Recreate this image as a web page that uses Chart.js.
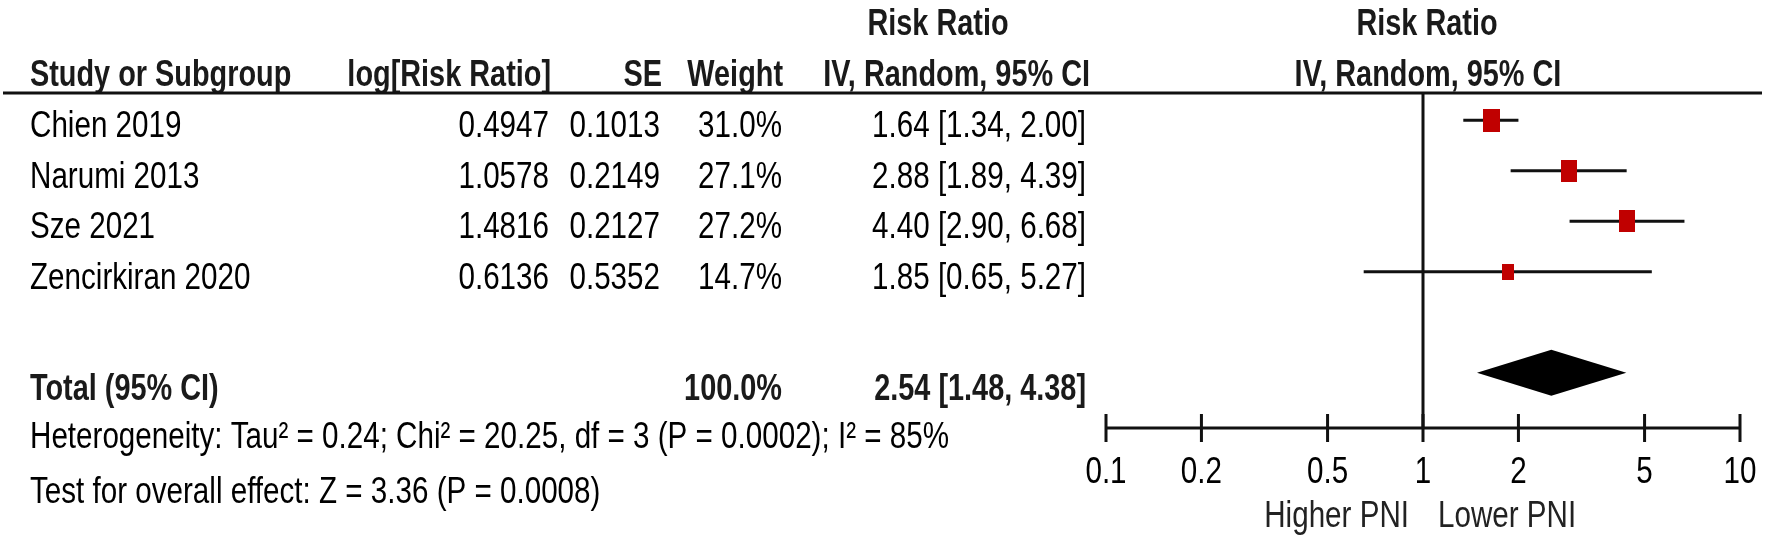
<!DOCTYPE html>
<html>
<head>
<meta charset="utf-8">
<title>Forest plot - Risk Ratio</title>
<script src="https://cdn.jsdelivr.net/npm/chart.js@4.4.1/dist/chart.umd.min.js"></script>
<style>
  html, body { margin: 0; padding: 0; background: #fff; }
  canvas { display: block; }
</style>
</head>
<body>
<canvas id="forest" width="1772" height="542"></canvas>
<script>
// study data
const studies = ['Chien 2019', 'Narumi 2013', 'Sze 2021', 'Zencirkiran 2020'];
const logRR = [0.4947, 1.0578, 1.4816, 0.6136];
const se = [0.1013, 0.2149, 0.2127, 0.5352];
const weights = [31.0, 27.1, 27.2, 14.7];
const riskRatio = [1.64, 2.88, 4.40, 1.85];
const ciLow = [1.34, 1.89, 2.90, 0.65];
const ciHigh = [2.00, 4.39, 6.68, 5.27];

// pooled estimate: [lower, estimate, upper]
const totalCI = [1.48, 2.54, 4.38];
const totalWeight = 100.0;

const xTicks = [0.1, 0.2, 0.5, 1, 2, 5, 10];
const heterogeneityText = 'Heterogeneity: Tau\u00b2 = 0.24; Chi\u00b2 = 20.25, df = 3 (P = 0.0002); I\u00b2 = 85%';
const overallText = 'Test for overall effect: Z = 3.36 (P = 0.0008)';

// layout
const TOTAL_ROW = 6;
const FONT_SIZE = 37;
const SQUEEZE = 0.80;       // narrow look, like Arial Narrow
const SQUEEZE_BOLD = 0.78;
const AXIS_Y = 428;
const HEADER_LINE_Y = 93;

function fmtCI(est, lo, hi) {
  return est.toFixed(2) + ' [' + lo.toFixed(2) + ', ' + hi.toFixed(2) + ']';
}

function drawText(ctx, text, x, y, align, bold, color) {
  ctx.save();
  ctx.font = (bold ? 'bold ' : '') + FONT_SIZE + 'px "Liberation Sans", Arial, sans-serif';
  ctx.fillStyle = color || '#000';
  ctx.textBaseline = 'alphabetic';
  ctx.textAlign = align;
  ctx.translate(x, y);
  ctx.scale(bold ? SQUEEZE_BOLD : SQUEEZE, 1);
  ctx.fillText(text, 0, 0);
  ctx.restore();
}

// weight squares, slightly taller than wide like the reference
function makeSquare(weight) {
  const w = Math.round(3.0 * Math.sqrt(weight));
  const h = Math.round(w * 1.35);
  const c = document.createElement('canvas');
  c.width = w;
  c.height = h;
  const g = c.getContext('2d');
  g.fillStyle = '#c00000';
  g.fillRect(0, 0, w, h);
  return c;
}

const forestPlugin = {
  id: 'forestTable',
  beforeDatasetsDraw(chart) {
    const ctx = chart.ctx;
    const x1 = chart.scales.x.getPixelForValue(1);
    ctx.save();
    ctx.strokeStyle = '#111';
    ctx.lineWidth = 3;
    ctx.beginPath();
    ctx.moveTo(x1, HEADER_LINE_Y);
    ctx.lineTo(x1, AXIS_Y);
    ctx.stroke();
    ctx.restore();
  },
  afterDraw(chart) {
    const ctx = chart.ctx;
    const x = chart.scales.x;
    const y = chart.scales.y;
    const dark = '#1a1a1a';
    const x1 = x.getPixelForValue(1);

    // headers
    drawText(ctx, 'Risk Ratio', 938, 35, 'center', true, dark);
    drawText(ctx, 'Risk Ratio', x1 + 4, 35, 'center', true, dark);
    drawText(ctx, 'Study or Subgroup', 30, 86, 'left', true, dark);
    drawText(ctx, 'log[Risk Ratio]', 551, 86, 'right', true, dark);
    drawText(ctx, 'SE', 662, 86, 'right', true, dark);
    drawText(ctx, 'Weight', 783, 86, 'right', true, dark);
    drawText(ctx, 'IV, Random, 95% CI', 1090, 86, 'right', true, dark);
    drawText(ctx, 'IV, Random, 95% CI', x1 + 5, 86, 'center', true, dark);

    ctx.save();
    ctx.strokeStyle = '#111';
    ctx.lineWidth = 3;
    ctx.beginPath();
    ctx.moveTo(3, HEADER_LINE_Y);
    ctx.lineTo(1762, HEADER_LINE_Y);
    ctx.stroke();
    ctx.restore();

    // study rows
    studies.forEach((name, i) => {
      const base = y.getPixelForValue(i + 1) + 17;
      drawText(ctx, name, 30, base, 'left');
      drawText(ctx, logRR[i].toFixed(4), 549, base, 'right');
      drawText(ctx, se[i].toFixed(4), 660, base, 'right');
      drawText(ctx, weights[i].toFixed(1) + '%', 782, base, 'right');
      drawText(ctx, fmtCI(riskRatio[i], ciLow[i], ciHigh[i]), 1086, base, 'right');
    });

    // total row
    const tBase = y.getPixelForValue(TOTAL_ROW) + 27;
    drawText(ctx, 'Total (95% CI)', 30, tBase, 'left', true, dark);
    drawText(ctx, totalWeight.toFixed(1) + '%', 782, tBase, 'right', true, dark);
    drawText(ctx, fmtCI(totalCI[1], totalCI[0], totalCI[2]), 1086, tBase, 'right', true, dark);

    // pooled diamond
    const yc = y.getPixelForValue(TOTAL_ROW);
    ctx.save();
    ctx.fillStyle = '#000';
    ctx.beginPath();
    ctx.moveTo(x.getPixelForValue(totalCI[0]), yc);
    ctx.lineTo(x.getPixelForValue(totalCI[1]), yc - 23);
    ctx.lineTo(x.getPixelForValue(totalCI[2]), yc);
    ctx.lineTo(x.getPixelForValue(totalCI[1]), yc + 23);
    ctx.closePath();
    ctx.fill();
    ctx.restore();

    drawText(ctx, heterogeneityText, 30, 448, 'left');
    drawText(ctx, overallText, 30, 503, 'left');

    // x axis
    ctx.save();
    ctx.strokeStyle = '#111';
    ctx.lineWidth = 3;
    ctx.beginPath();
    ctx.moveTo(x.getPixelForValue(xTicks[0]), AXIS_Y);
    ctx.lineTo(x.getPixelForValue(xTicks[xTicks.length - 1]), AXIS_Y);
    xTicks.forEach(t => {
      const px = x.getPixelForValue(t);
      ctx.moveTo(px, AXIS_Y - 14);
      ctx.lineTo(px, AXIS_Y + 14);
    });
    ctx.stroke();
    ctx.restore();
    xTicks.forEach(t => {
      drawText(ctx, String(t), x.getPixelForValue(t), 483, 'center');
    });

    drawText(ctx, 'Higher PNI', x1 - 14, 527, 'right', false, '#222');
    drawText(ctx, 'Lower PNI', x1 + 15, 527, 'left', false, '#222');
  }
};

const ciDatasets = studies.map((name, i) => ({
  label: name + ' CI',
  data: [{ x: ciLow[i], y: i + 1 }, { x: ciHigh[i], y: i + 1 }],
  showLine: true,
  borderColor: '#111',
  borderWidth: 3,
  pointRadius: 0,
  order: 2
}));

const squareDataset = {
  label: 'Risk Ratio',
  data: riskRatio.map((v, i) => ({ x: v, y: i + 1 })),
  pointStyle: weights.map(makeSquare),
  pointRadius: 10,
  showLine: false,
  order: 1
};

new Chart(document.getElementById('forest').getContext('2d'), {
  type: 'scatter',
  data: { datasets: [squareDataset].concat(ciDatasets) },
  options: {
    responsive: false,
    animation: false,
    devicePixelRatio: 1,
    layout: { padding: { left: 1106, right: 32, top: 0, bottom: 0 } },
    plugins: {
      legend: { display: false },
      tooltip: { enabled: false }
    },
    scales: {
      x: { type: 'logarithmic', min: 0.1, max: 10, display: false },
      y: { type: 'linear', reverse: true, min: -1.167, max: 9.137, display: false }
    }
  },
  plugins: [forestPlugin]
});
</script>
</body>
</html>
